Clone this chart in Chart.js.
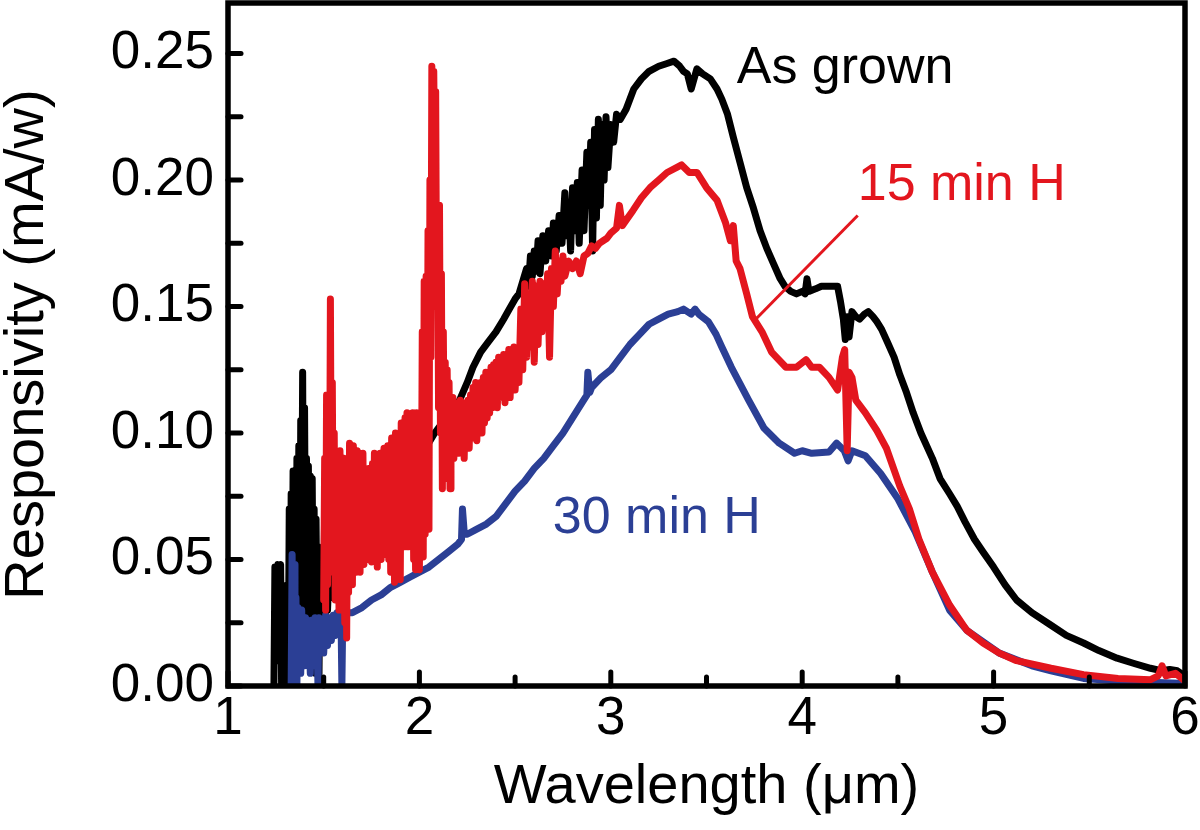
<!DOCTYPE html>
<html>
<head>
<meta charset="utf-8">
<script src="https://cdn.jsdelivr.net/npm/chart.js@4.4.0/dist/chart.umd.min.js"></script>
<style>
  html, body { margin: 0; padding: 0; background: #fff; }
  #wrap { width: 1200px; height: 830px; }
</style>
</head>
<body>
<div id="wrap"><canvas id="chart" width="1200" height="830"></canvas></div>
<script>
// tick values
const xMajorTicks = [1, 2, 3, 4, 5, 6];
const xMinorTicks = [1.5, 2.5, 3.5, 4.5, 5.5];
const yMajorTicks = [0, 0.05, 0.10, 0.15, 0.20, 0.25];
const yMinorTicks = [0.025, 0.075, 0.125, 0.175, 0.225];

// As grown: [wavelength um, responsivity mA/W]
const asGrown = [
  [1.24,0],[1.245,0.047],[1.255,0.046],[1.26,0.048],[1.265,0.01],[1.27,0.047],[1.275,0.048],[1.28,0],
  [1.29,0.03],[1.295,0],[1.30,0.02],[1.305,0],[1.31,0.04],[1.315,0.005],[1.32,0.07],[1.325,0.01],
  [1.33,0.076],[1.335,0.02],[1.34,0.085],[1.345,0.03],[1.35,0.082],[1.355,0.015],[1.36,0.09],[1.365,0.04],
  [1.37,0.095],[1.375,0.02],[1.38,0.105],[1.385,0.05],[1.39,0.124],[1.395,0.03],[1.40,0.11],[1.405,0.04],
  [1.41,0.09],[1.415,0.025],[1.42,0.087],[1.425,0.03],[1.43,0.083],[1.435,0.01],[1.44,0.082],[1.445,0.02],
  [1.45,0.07],[1.455,0.005],[1.46,0.066],[1.465,0.02],[1.47,0.055],[1.475,0],[1.48,0.045],[1.485,0.02],
  [1.49,0.04],[1.50,0.03],[1.505,0.07],[1.51,0.025],[1.515,0.065],[1.52,0.03],[1.53,0.05],[1.54,0.035],
  [1.56,0.055],[1.58,0.04],[1.60,0.05],[1.62,0.045],[1.65,0.06],[1.68,0.05],[1.70,0.065],[1.73,0.06],
  [1.76,0.07],[1.80,0.068],[1.84,0.075],[1.88,0.08],[1.92,0.082],[1.96,0.088],[2.00,0.09],[2.04,0.095],
  [2.08,0.1],[2.12,0.104],[2.16,0.108],[2.21,0.113],[2.25,0.12],[2.28,0.126],[2.32,0.132],[2.36,0.136],
  [2.40,0.14],[2.44,0.145],[2.47,0.149],[2.50,0.153],[2.52,0.155],[2.54,0.16],[2.56,0.165],[2.57,0.158],
  [2.58,0.17],[2.59,0.162],[2.60,0.172],[2.61,0.164],[2.62,0.176],[2.63,0.163],[2.645,0.178],[2.66,0.168],
  [2.675,0.18],[2.69,0.17],[2.70,0.183],[2.715,0.172],[2.73,0.186],[2.745,0.175],[2.76,0.195],[2.77,0.178],
  [2.78,0.19],[2.79,0.172],[2.80,0.197],[2.81,0.18],[2.825,0.199],[2.835,0.175],[2.85,0.204],[2.86,0.18],
  [2.875,0.211],[2.885,0.19],[2.895,0.215],[2.905,0.172],[2.915,0.22],[2.925,0.185],[2.935,0.224],[2.945,0.19],
  [2.955,0.222],[2.965,0.2],[2.975,0.225],[2.985,0.205],[3.0,0.222],[3.015,0.215],[3.03,0.226],[3.05,0.224],
  [3.08,0.228],[3.12,0.236],[3.16,0.24],[3.2,0.243],[3.25,0.245],[3.29,0.246],[3.33,0.247],[3.36,0.245],
  [3.38,0.243],[3.40,0.242],[3.42,0.236],[3.435,0.24],[3.45,0.244],[3.48,0.242],[3.52,0.24],[3.555,0.236],
  [3.58,0.232],[3.61,0.226],[3.64,0.217],[3.675,0.207],[3.71,0.197],[3.745,0.189],[3.78,0.18],[3.815,0.173],
  [3.85,0.167],[3.885,0.161],[3.91,0.158],[3.94,0.156],[3.97,0.155],[4.0,0.156],[4.015,0.155],[4.025,0.161],
  [4.035,0.156],[4.07,0.157],[4.10,0.158],[4.14,0.158],[4.185,0.158],[4.2,0.152],[4.215,0.145],[4.225,0.137],
  [4.235,0.146],[4.245,0.138],[4.26,0.148],[4.28,0.146],[4.30,0.145],[4.325,0.147],[4.345,0.148],[4.37,0.146],
  [4.39,0.144],[4.415,0.141],[4.445,0.136],[4.48,0.13],[4.51,0.123],[4.545,0.116],[4.58,0.108],[4.62,0.1],
  [4.68,0.09],[4.72,0.082],[4.77,0.076],[4.81,0.071],[4.85,0.065],[4.9,0.058],[4.945,0.053],[5.0,0.047],
  [5.06,0.04],[5.12,0.034],[5.2,0.029],[5.3,0.024],[5.38,0.02],[5.47,0.017],[5.55,0.014],[5.645,0.011],
  [5.73,0.009],[5.82,0.007],[5.88,0.006],[5.92,0.0065],[5.96,0.006],[6.0,0.004]
];

// 15 min H
const min15 = [
  [1.500,0.034],[1.505,0.09],[1.510,0.03],[1.515,0.115],[1.520,0.04],[1.525,0.11],[1.530,0.05],[1.535,0.153],
  [1.540,0.06],[1.545,0.12],[1.550,0.045],[1.555,0.1],[1.560,0.034],[1.565,0.084],[1.570,0.04],[1.575,0.09],
  [1.580,0.03],[1.585,0.093],[1.590,0.045],[1.595,0.085],[1.600,0.035],[1.605,0.09],[1.610,0.025],[1.615,0.08],
  [1.620,0.019],[1.625,0.085],[1.630,0.037],[1.635,0.096],[1.640,0.05],[1.645,0.09],[1.650,0.04],[1.655,0.095],
  [1.660,0.055],[1.665,0.088],[1.670,0.045],[1.675,0.093],[1.680,0.05],[1.685,0.092],[1.690,0.045],[1.695,0.085],
  [1.700,0.06],[1.705,0.092],[1.710,0.048],[1.715,0.084],[1.720,0.055],[1.725,0.08],[1.730,0.05],[1.735,0.086],
  [1.740,0.06],[1.745,0.082],[1.750,0.049],[1.755,0.088],[1.760,0.055],[1.765,0.092],[1.770,0.05],[1.775,0.085],
  [1.780,0.047],[1.785,0.09],[1.790,0.058],[1.795,0.092],[1.800,0.05],[1.805,0.088],[1.810,0.06],[1.815,0.094],
  [1.820,0.052],[1.825,0.09],[1.830,0.06],[1.835,0.095],[1.840,0.05],[1.845,0.092],[1.850,0.045],[1.855,0.098],
  [1.860,0.055],[1.865,0.094],[1.870,0.041],[1.875,0.1],[1.880,0.06],[1.885,0.096],[1.890,0.05],[1.895,0.099],
  [1.900,0.042],[1.905,0.104],[1.910,0.06],[1.915,0.1],[1.920,0.055],[1.925,0.106],[1.930,0.065],[1.935,0.108],
  [1.940,0.055],[1.945,0.104],[1.950,0.07],[1.955,0.1],[1.960,0.06],[1.965,0.108],[1.970,0.05],[1.975,0.105],
  [1.980,0.046],[1.985,0.108],[1.990,0.055],[1.995,0.1],[2.000,0.046],[2.005,0.108],[2.010,0.06],[2.015,0.14],
  [2.020,0.051],[2.025,0.16],[2.030,0.06],[2.035,0.162],[2.040,0.075],[2.045,0.18],[2.050,0.062],[2.055,0.2],
  [2.060,0.13],[2.065,0.245],[2.070,0.17],[2.075,0.243],[2.080,0.2],[2.085,0.235],[2.090,0.15],[2.095,0.19],
  [2.100,0.11],[2.105,0.19],[2.110,0.1],[2.115,0.163],[2.120,0.078],[2.125,0.14],[2.130,0.09],[2.135,0.128],
  [2.140,0.082],[2.145,0.125],[2.150,0.095],[2.155,0.12],[2.160,0.078],[2.165,0.11],[2.170,0.095],[2.175,0.114],
  [2.180,0.09],[2.187,0.112],[2.194,0.094],[2.20,0.11],[2.207,0.092],[2.214,0.113],[2.22,0.095],[2.227,0.11],
  [2.234,0.09],[2.24,0.112],[2.247,0.096],[2.254,0.113],[2.26,0.094],[2.267,0.115],[2.274,0.098],[2.28,0.118],
  [2.287,0.1],[2.294,0.12],[2.30,0.097],[2.307,0.118],[2.314,0.103],[2.32,0.12],[2.327,0.1],[2.334,0.122],
  [2.34,0.104],[2.347,0.124],[2.354,0.106],[2.36,0.122],[2.367,0.108],[2.374,0.126],[2.38,0.11],[2.387,0.127],
  [2.394,0.112],[2.40,0.128],[2.407,0.11],[2.414,0.13],[2.42,0.114],[2.427,0.128],[2.434,0.116],[2.44,0.131],
  [2.447,0.112],[2.454,0.13],[2.46,0.118],[2.467,0.133],[2.474,0.114],[2.48,0.13],[2.487,0.12],[2.494,0.134],
  [2.50,0.117],[2.51,0.132],[2.52,0.12],[2.53,0.149],[2.54,0.125],[2.55,0.159],[2.56,0.13],[2.57,0.155],
  [2.58,0.134],[2.59,0.16],[2.60,0.128],[2.61,0.158],[2.62,0.135],[2.63,0.16],[2.64,0.14],[2.65,0.159],
  [2.66,0.145],[2.67,0.163],[2.68,0.13],[2.69,0.165],[2.70,0.15],[2.71,0.172],[2.72,0.155],[2.73,0.168],
  [2.74,0.16],[2.75,0.17],[2.76,0.162],[2.78,0.168],[2.80,0.165],[2.82,0.168],[2.84,0.163],[2.86,0.17],
  [2.88,0.171],[2.90,0.174],[2.92,0.173],[2.94,0.175],[2.96,0.176],[2.98,0.177],[3.00,0.179],[3.03,0.181],
  [3.045,0.19],[3.06,0.182],[3.116,0.188],[3.16,0.193],[3.205,0.197],[3.25,0.2],[3.294,0.203],[3.37,0.206],
  [3.41,0.203],[3.45,0.203],[3.50,0.197],[3.555,0.192],[3.6,0.183],[3.625,0.176],[3.64,0.182],[3.655,0.168],
  [3.675,0.165],[3.71,0.155],[3.74,0.146],[3.79,0.14],[3.84,0.132],[3.915,0.126],[3.97,0.126],[4.02,0.129],
  [4.05,0.126],[4.09,0.126],[4.14,0.122],[4.185,0.117],[4.21,0.13],[4.222,0.133],[4.235,0.093],[4.245,0.124],
  [4.26,0.122],[4.28,0.113],[4.33,0.108],[4.39,0.101],[4.44,0.094],[4.51,0.079],[4.56,0.07],[4.61,0.058],
  [4.68,0.045],[4.77,0.032],[4.86,0.022],[4.945,0.017],[5.03,0.013],[5.12,0.01],[5.3,0.007],[5.47,0.0045],
  [5.65,0.003],[5.82,0.0025],[5.86,0.004],[5.88,0.008],[5.9,0.004],[5.95,0.005],[6.0,0.002]
];

// 30 min H
const min30 = [
  [1.33,0],[1.335,0.052],[1.34,0],[1.345,0.048],[1.35,0.005],[1.355,0.035],[1.36,0],[1.365,0.031],
  [1.37,0.01],[1.375,0.025],[1.38,0.005],[1.385,0.03],[1.39,0.012],[1.395,0.023],[1.40,0.008],[1.405,0.027],
  [1.41,0.012],[1.415,0.02],[1.42,0.01],[1.425,0.018],[1.43,0.005],[1.435,0.026],[1.44,0.012],[1.445,0.022],
  [1.45,0.008],[1.455,0.027],[1.46,0.014],[1.465,0.02],[1.47,0],[1.475,0.027],[1.48,0.015],[1.49,0.025],
  [1.50,0.013],[1.51,0.028],[1.52,0.016],[1.53,0.027],[1.54,0.018],[1.55,0.028],[1.56,0.02],[1.57,0.029],
  [1.58,0.022],[1.59,0.03],[1.595,0],[1.60,0.03],[1.61,0.025],[1.62,0.029],[1.65,0.029],[1.70,0.031],
  [1.75,0.034],[1.80,0.036],[1.85,0.039],[1.90,0.041],[1.95,0.043],[2.00,0.045],[2.05,0.047],[2.10,0.05],
  [2.15,0.053],[2.20,0.056],[2.22,0.058],[2.225,0.07],[2.235,0.06],[2.25,0.06],[2.30,0.062],[2.35,0.064],
  [2.40,0.067],[2.45,0.072],[2.50,0.077],[2.55,0.081],[2.60,0.086],[2.65,0.09],[2.70,0.095],[2.75,0.1],
  [2.80,0.106],[2.85,0.112],[2.875,0.115],[2.88,0.124],[2.89,0.116],[2.90,0.118],[2.95,0.122],[3.00,0.125],
  [3.05,0.13],[3.10,0.135],[3.15,0.139],[3.2,0.143],[3.25,0.145],[3.30,0.147],[3.35,0.148],[3.38,0.149],
  [3.42,0.147],[3.44,0.149],[3.46,0.147],[3.51,0.144],[3.55,0.139],[3.58,0.134],[3.63,0.126],[3.72,0.113],
  [3.8,0.102],[3.88,0.096],[3.96,0.092],[4.0,0.093],[4.05,0.092],[4.14,0.0925],[4.18,0.096],[4.22,0.093],
  [4.24,0.089],[4.26,0.093],[4.33,0.091],[4.41,0.084],[4.5,0.074],[4.59,0.061],[4.68,0.045],[4.77,0.03],
  [4.86,0.022],[5.03,0.013],[5.2,0.008],[5.3,0.006],[5.47,0.003],[5.65,0.002],[5.82,0.0015],[6.0,0.001]
];

const toPoints = arr => arr.map(p => ({ x: p[0], y: p[1] }));

const FONT = "'Liberation Sans', Arial, Helvetica, sans-serif";
const RED = '#e3161e';
const BLUE = '#2b3f95';

// labels and leader line in data coordinates
const notes = [
  { text: 'As grown', x: 3.658, y: 0.2385, color: '#000' },
  { text: '15 min H', x: 4.29, y: 0.192, color: RED },
  { text: '30 min H', x: 2.697, y: 0.0604, color: BLUE }
];
const leader = [[4.29, 0.186], [3.757, 0.145]];

const framePlugin = {
  id: 'framePlugin',
  afterDatasetsDraw(chart) {
    const { ctx, chartArea: a, scales: { x, y } } = chart;
    ctx.save();
    ctx.strokeStyle = '#000';
    ctx.lineWidth = 5;
    ctx.lineCap = 'round';
    const seg = (x1, y1, x2, y2) => { ctx.beginPath(); ctx.moveTo(x1, y1); ctx.lineTo(x2, y2); ctx.stroke(); };
    xMajorTicks.forEach(v => { const p = x.getPixelForValue(v); seg(p, a.bottom, p, a.bottom - 14); });
    xMinorTicks.forEach(v => { const p = x.getPixelForValue(v); seg(p, a.bottom, p, a.bottom - 9); });
    yMajorTicks.concat(yMinorTicks).forEach(v => { const p = y.getPixelForValue(v); seg(a.left, p, a.left + 13, p); });
    ctx.lineCap = 'butt';
    ctx.lineJoin = 'miter';
    ctx.lineWidth = 5.5;
    ctx.strokeRect(a.left, a.top, a.right - a.left, a.bottom - a.top);

    // annotations
    ctx.textBaseline = 'alphabetic';
    ctx.textAlign = 'left';
    ctx.font = '52px ' + FONT;
    notes.forEach(n => {
      ctx.fillStyle = n.color;
      ctx.fillText(n.text, x.getPixelForValue(n.x), y.getPixelForValue(n.y));
    });
    ctx.strokeStyle = RED;
    ctx.lineWidth = 3;
    seg(x.getPixelForValue(leader[0][0]), y.getPixelForValue(leader[0][1]),
        x.getPixelForValue(leader[1][0]), y.getPixelForValue(leader[1][1]));
    ctx.restore();
  }
};

const lineStyle = { pointRadius: 0, borderWidth: 7, tension: 0, fill: false,
  borderJoinStyle: 'round', borderCapStyle: 'round' };

new Chart(document.getElementById('chart').getContext('2d'), {
  type: 'line',
  data: {
    datasets: [
      Object.assign({ label: '15 min H', data: toPoints(min15), borderColor: RED, order: 0 }, lineStyle),
      Object.assign({ label: '30 min H', data: toPoints(min30), borderColor: BLUE, order: 1 }, lineStyle),
      Object.assign({ label: 'As grown', data: toPoints(asGrown), borderColor: '#000', order: 2 }, lineStyle)
    ]
  },
  options: {
    responsive: false,
    animation: false,
    devicePixelRatio: 1,
    layout: { padding: { top: 3, right: 15, left: 0, bottom: 0 } },
    plugins: { legend: { display: false }, tooltip: { enabled: false } },
    scales: {
      x: {
        type: 'linear', min: 1, max: 6,
        grid: { display: false, drawTicks: false },
        border: { display: false },
        afterBuildTicks: s => { s.ticks = xMajorTicks.map(v => ({ value: v })); },
        afterFit: s => { s.height = 144; s.paddingLeft = 0; s.paddingRight = 0; },
        ticks: { color: '#000', font: { family: FONT, size: 53 }, padding: 2, maxRotation: 0,
          callback: v => String(v) },
        title: { display: true, text: 'Wavelength (\u03bcm)', color: '#000',
          font: { family: FONT, size: 56, lineHeight: 1 }, padding: { top: 0, bottom: 14 } }
      },
      y: {
        type: 'linear', min: 0, max: 0.27,
        grid: { display: false, drawTicks: false },
        border: { display: false },
        afterBuildTicks: s => { s.ticks = yMajorTicks.map(v => ({ value: v })); },
        afterFit: s => { s.width = 228; s.paddingTop = 0; s.paddingBottom = 0; },
        ticks: { color: '#000', font: { family: FONT, size: 53 }, padding: 14,
          callback: v => Number(v).toFixed(2) },
        title: { display: true, text: 'Responsivity (mA/w)', color: '#000',
          font: { family: FONT, size: 56, lineHeight: 1 }, padding: { top: 0, bottom: 0 } }
      }
    }
  },
  plugins: [framePlugin]
});
</script>
</body>
</html>
